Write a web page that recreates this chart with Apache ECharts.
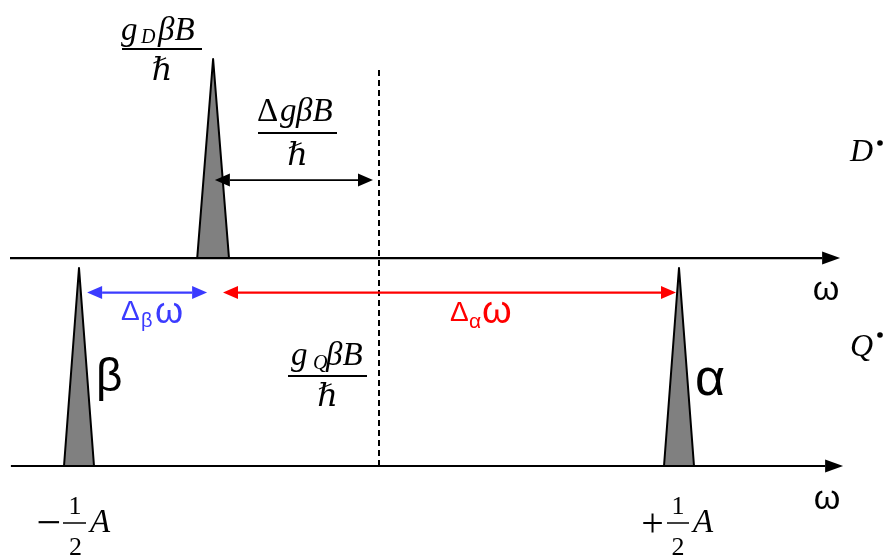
<!DOCTYPE html>
<html><head><meta charset="utf-8">
<script src="https://cdn.jsdelivr.net/npm/echarts@6/dist/echarts.min.js"></script>
<style>html,body{margin:0;padding:0;background:#fff}#c{width:885px;height:558px}</style>
</head><body><div id="c"></div>
<script>
// ---- data (ω in units of A/2, the Q• centre gQβB/ℏ at 0; intensity in peak heights)
const spectra = ['Q•', 'D•'];
const baselineLevel = [0, 1.05];
const axisStart = [-1.227, -1.23];
const axisEnd = [1.547, 1.537];

const peakNames = ['β', 'α', 'D'];
const peakOmega = [-1, 1, -0.553];
const peakSpectrum = [0, 0, 1];
const peakHeight = [1, 1, 1.005];
const peakHalfWidth = [0.05, 0.05, 0.053];

const centreOmega = 0;   // gQβB/ℏ
const centreTop = 2.0;

const splitNames = ['ΔgβB/ℏ', 'Δβω', 'Δαω'];
const splitFrom = [-0.547, -0.973, -0.52];
const splitTo = [-0.02, -0.573, 0.99];
const splitLevel = [1.444, 0.876, 0.876];
const splitColor = ['#000000', '#3b3bff', '#ff0000'];

// ---- styles
const SERIF = '"Liberation Serif","DejaVu Serif",serif';
const SANS = '"Liberation Sans",Arial,sans-serif';

function arrowGroup(p1, p2, color, lw, headLen, headHalf, both) {
  const dx = p2[0] - p1[0], dy = p2[1] - p1[1];
  const L = Math.sqrt(dx * dx + dy * dy), ux = dx / L, uy = dy / L;
  const nx = -uy, ny = ux;
  const children = [];
  const s = both ? [p1[0] + ux * headLen, p1[1] + uy * headLen] : p1;
  const e = [p2[0] - ux * headLen, p2[1] - uy * headLen];
  children.push({type: 'line', shape: {x1: s[0], y1: s[1], x2: e[0], y2: e[1]}, style: {stroke: color, lineWidth: lw}});
  children.push({type: 'polygon', shape: {points: [p2, [e[0] + nx * headHalf, e[1] + ny * headHalf], [e[0] - nx * headHalf, e[1] - ny * headHalf]]}, style: {fill: color}});
  if (both) {
    children.push({type: 'polygon', shape: {points: [p1, [s[0] + nx * headHalf, s[1] + ny * headHalf], [s[0] - nx * headHalf, s[1] - ny * headHalf]]}, style: {fill: color}});
  }
  return {type: 'group', children};
}

const axisData = spectra.map((n, i) => [axisStart[i], axisEnd[i], baselineLevel[i]]);
const peakData = peakNames.map((n, i) => [peakOmega[i], peakHeight[i], baselineLevel[peakSpectrum[i]], peakHalfWidth[i]]);
const splitData = splitNames.map((n, i) => [splitFrom[i], splitTo[i], splitLevel[i], i]);

function t(x, y, text, size, o) {
  return {type: 'text', x, y, silent: true, z: 10,
    style: Object.assign({text, fontSize: size, fontFamily: SERIF, fontStyle: 'italic', fill: '#000', align: 'left', verticalAlign: 'middle'}, o || {})};
}
function hl(x1, x2, y, w) {
  return {type: 'line', silent: true, z: 10, shape: {x1, y1: y, x2, y2: y}, style: {stroke: '#000', lineWidth: w || 1.5}};
}
function dot(x, y) {
  return {type: 'circle', silent: true, z: 10, shape: {cx: x, cy: y, r: 2.8}, style: {fill: '#000'}};
}
const up = {fontStyle: 'normal'};
const upc = {fontStyle: 'normal', align: 'center'};
const sans = (o) => Object.assign({fontFamily: SANS, fontStyle: 'normal'}, o || {});
const NS = 33;   // numerator font size
const graphics = [
  // gDβB / ℏ
  t(121, 31, 'g', NS), t(141, 37.5, 'D', 20), t(158, 31, 'βB', NS), hl(122, 202, 49, 2), t(162, 72, 'ℏ', 32, {align: 'center'}),
  // ΔgβB / ℏ
  t(257, 112, 'Δ', NS, up), t(280, 112, 'g', NS), t(296, 112, 'βB', NS), hl(258, 337, 133, 2), t(297.5, 157, 'ℏ', 32, {align: 'center'}),
  // gQβB / ℏ
  t(291, 356, 'g', NS), t(313, 364, 'Q', 20), t(326, 356, 'βB', NS), hl(288, 367, 376, 2), t(327.5, 398, 'ℏ', 32, {align: 'center'}),
  // D•, Q•
  t(850, 153, 'D', 32), dot(880, 143),
  t(850, 348, 'Q', 32), dot(880, 335),
  // ω axis labels
  t(826, 291, 'ω', 34, sans({align: 'center'})),
  t(827, 500, 'ω', 34, sans({align: 'center'})),
  // peak labels
  t(96, 378, 'β', 46, sans()),
  t(695, 381, 'α', 52, sans()),
  // splitting labels
  t(121, 312.5, 'Δ', 28, sans({fill: splitColor[1]})),
  t(141, 321, 'β', 20, sans({fill: splitColor[1]})),
  t(155, 313, 'ω', 36, sans({fill: splitColor[1]})),
  t(450, 313, 'Δ', 28, sans({fill: splitColor[2]})),
  t(469, 322.5, 'α', 21, sans({fill: splitColor[2]})),
  t(482, 313, 'ω', 38, sans({fill: splitColor[2]})),
  // −½A
  t(49, 525, '−', 44, upc), t(75, 507.5, '1', 26, upc), hl(63, 86, 523, 1.5),
  t(75.5, 548, '2', 26, upc), t(90, 523, 'A', 33),
  // +½A
  t(652.5, 525, '+', 40, upc), t(678, 507.5, '1', 26, upc), hl(667, 689, 523, 1.5),
  t(678, 548, '2', 26, upc), t(693, 523, 'A', 33)
];

const chart = echarts.init(document.getElementById('c'), null, {renderer: 'canvas'});
chart.setOption({
  animation: false,
  backgroundColor: '#fff',
  grid: {left: 79, right: 206, top: 268, bottom: 92},
  xAxis: {type: 'value', min: -1, max: 1, show: false},
  yAxis: {type: 'value', min: 0, max: 1, show: false},
  graphic: graphics,
  series: [
    {
      type: 'custom', name: 'axes', clip: false, z: 2, data: axisData,
      renderItem: (p, api) => arrowGroup(api.coord([api.value(0), api.value(2)]), api.coord([api.value(1), api.value(2)]), '#000', 2.2, 18, 6.5, false)
    },
    {
      type: 'custom', name: 'centre', clip: false, z: 1, data: [[centreOmega, centreTop]],
      renderItem: (p, api) => {
        const a = api.coord([api.value(0), 0]), b = api.coord([api.value(0), api.value(1)]);
        return {type: 'line', shape: {x1: a[0], y1: a[1], x2: b[0], y2: b[1]}, style: {stroke: '#000', lineWidth: 2, lineDash: [6, 4]}};
      }
    },
    {
      type: 'custom', name: 'peaks', clip: false, z: 3, data: peakData,
      renderItem: (p, api) => {
        const w = api.value(0), h = api.value(1), b = api.value(2), hw = api.value(3);
        return {type: 'polygon', shape: {points: [api.coord([w, b + h]), api.coord([w + hw, b]), api.coord([w - hw, b])]},
          style: {fill: '#808080', stroke: '#000', lineWidth: 2, lineJoin: 'round'}};
      }
    },
    {
      type: 'custom', name: 'splittings', clip: false, z: 4, data: splitData,
      renderItem: (p, api) => {
        const i = api.value(3);
        return arrowGroup(api.coord([api.value(0), api.value(2)]), api.coord([api.value(1), api.value(2)]), splitColor[i], i === 0 ? 1.8 : 2.2, 15, 6.5, true);
      }
    }
  ]
});
</script></body></html>
